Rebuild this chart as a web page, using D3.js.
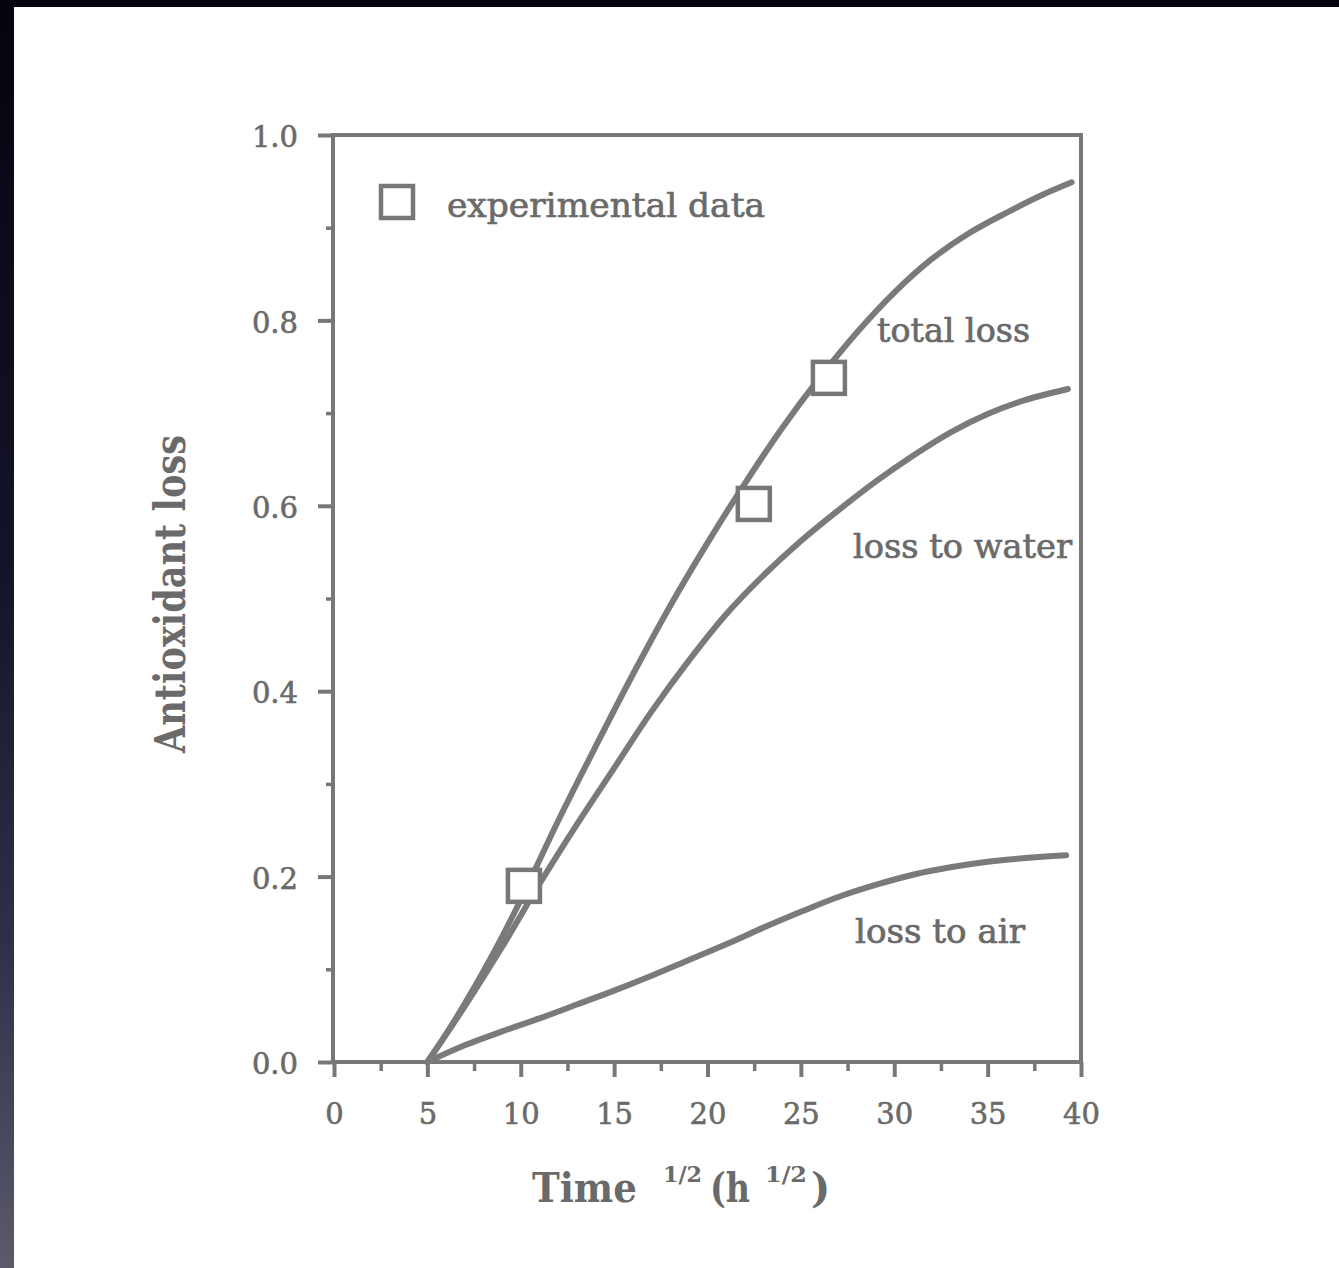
<!DOCTYPE html>
<html>
<head>
<meta charset="utf-8">
<script src="https://cdn.jsdelivr.net/npm/d3@7"></script>
<style>
  html, body { margin: 0; padding: 0; background: #ffffff; }
  svg { display: block; }
</style>
</head>
<body>
<svg id="chart" width="1339" height="1268"></svg>
<script>
// Antioxidant loss vs square root of time
const xTicksMajor = [0, 5, 10, 15, 20, 25, 30, 35, 40];
const xTicksMinor = [2.5, 7.5, 12.5, 17.5, 22.5, 27.5, 32.5, 37.5];
const yTicksMajor = [0, 0.2, 0.4, 0.6, 0.8, 1.0];
const yTicksMinor = [0.1, 0.3, 0.5, 0.7, 0.9];

// model curves: [time^1/2, fraction lost]
const totalLoss = [[5,0],[6,0.03],[7.5,0.08],[9,0.135],[10,0.175],[12,0.26],[14,0.34],[16,0.418],[18,0.492],[20,0.56],[22,0.624],[24,0.684],[26,0.738],[28,0.787],[30,0.83],[32,0.866],[34,0.894],[36,0.916],[38,0.936],[39.5,0.949]];
const lossToWater = [[5,0],[7,0.06],[9,0.124],[11,0.192],[13,0.256],[15,0.317],[17,0.378],[19,0.433],[21,0.483],[23,0.525],[25,0.562],[27,0.595],[29,0.626],[31,0.654],[33,0.679],[35,0.699],[37,0.714],[39.3,0.726]];
const lossToAir = [[5,0],[7,0.018],[9,0.033],[11,0.047],[13,0.062],[15,0.077],[17,0.093],[19,0.11],[21,0.127],[23,0.145],[25,0.162],[27,0.178],[29,0.191],[31,0.202],[33,0.21],[35,0.216],[37,0.22],[39.2,0.223]];

// measured points: [time^1/2, fraction lost]
const experimental = [[10.17,0.19],[22.48,0.602],[26.5,0.738]];

const curveLabels = ["total loss", "loss to water", "loss to air"];
const legendLabel = "experimental data";
const yTitle = "Antioxidant loss";

const svg = d3.select("#chart");
const ink = "#777777";
const textInk = "#6a6a6a";
const serif = "'DejaVu Serif', serif";

// dark frame strips
const defs = svg.append("defs");
const grad = defs.append("linearGradient").attr("id", "edge").attr("x1", 0).attr("y1", 0).attr("x2", 0).attr("y2", 1);
grad.append("stop").attr("offset", "0").attr("stop-color", "#04040f");
grad.append("stop").attr("offset", "0.45").attr("stop-color", "#141428");
grad.append("stop").attr("offset", "0.75").attr("stop-color", "#30304a");
grad.append("stop").attr("offset", "1").attr("stop-color", "#5a5a6a");
svg.append("rect").attr("x", 0).attr("y", 0).attr("width", 1339).attr("height", 7).attr("fill", "#04040f");
svg.append("rect").attr("x", 0).attr("y", 0).attr("width", 14).attr("height", 1268).attr("fill", "url(#edge)");

const x = d3.scaleLinear().domain([0, 40]).range([334, 1081]);
const y = d3.scaleLinear().domain([0, 1]).range([1062, 135]);

// minor ticks
svg.append("g").attr("transform", `translate(0,${y(0)})`)
  .call(d3.axisBottom(x).tickValues(xTicksMinor).tickSize(9).tickFormat(""))
  .call(g => g.select(".domain").remove())
  .call(g => g.selectAll("line").attr("stroke", ink).attr("stroke-width", 3.5));
svg.append("g").attr("transform", `translate(${x(0) - 1},0)`)
  .call(d3.axisLeft(y).tickValues(yTicksMinor).tickSize(7).tickFormat(""))
  .call(g => g.select(".domain").remove())
  .call(g => g.selectAll("line").attr("stroke", ink).attr("stroke-width", 3.5));

// major ticks and labels
svg.append("g").attr("transform", `translate(0,${y(0)})`)
  .call(d3.axisBottom(x).tickValues(xTicksMajor).tickSize(15).tickPadding(26).tickFormat(d3.format("d")))
  .call(g => g.select(".domain").remove())
  .call(g => g.selectAll("line").attr("stroke", ink).attr("stroke-width", 4))
  .call(g => g.selectAll("text").attr("fill", textInk).attr("stroke", textInk).attr("stroke-width", 0.6)
    .attr("font-family", serif).attr("font-size", 29));
svg.append("g").attr("transform", `translate(${x(0) - 1},0)`)
  .call(d3.axisLeft(y).tickValues(yTicksMajor).tickSize(15).tickPadding(20).tickFormat(d3.format(".1f")))
  .call(g => g.select(".domain").remove())
  .call(g => g.selectAll("line").attr("stroke", ink).attr("stroke-width", 4))
  .call(g => g.selectAll("text").attr("fill", textInk).attr("stroke", textInk).attr("stroke-width", 0.6)
    .attr("font-family", serif).attr("font-size", 29).attr("dy", "0.4em"));

// plot frame
svg.append("rect")
  .attr("x", x(0) - 1).attr("y", y(1))
  .attr("width", x(40) - x(0) + 1).attr("height", y(0) - y(1))
  .attr("fill", "none").attr("stroke", ink).attr("stroke-width", 4);

// curves
const line = d3.line().x(d => x(d[0])).y(d => y(d[1])).curve(d3.curveCatmullRom.alpha(0.5));
svg.append("g").selectAll("path")
  .data([totalLoss, lossToWater, lossToAir])
  .join("path")
  .attr("d", line)
  .attr("fill", "none")
  .attr("stroke", "#7a7a7a")
  .attr("stroke-width", 6)
  .attr("stroke-linecap", "round")
  .attr("stroke-linejoin", "round");

// experimental squares
const sq = 32;
svg.append("g").selectAll("rect")
  .data(experimental)
  .join("rect")
  .attr("x", d => x(d[0]) - sq / 2)
  .attr("y", d => y(d[1]) - sq / 2)
  .attr("width", sq).attr("height", sq)
  .attr("fill", "#ffffff")
  .attr("stroke", ink)
  .attr("stroke-width", 4.5);

// legend
svg.append("rect").attr("x", 397 - sq / 2).attr("y", 202 - sq / 2).attr("width", sq).attr("height", sq)
  .attr("fill", "#ffffff").attr("stroke", ink).attr("stroke-width", 4.5);
svg.append("text").attr("x", 447).attr("y", 217)
  .attr("font-family", serif).attr("font-size", 33).attr("fill", textInk)
  .attr("stroke", textInk).attr("stroke-width", 0.7)
  .attr("textLength", 318).attr("lengthAdjust", "spacingAndGlyphs")
  .text(legendLabel);

// curve labels
const labelPos = [[877, 342, 153], [853, 558, 219], [855, 943, 170]];
svg.append("g").selectAll("text")
  .data(curveLabels)
  .join("text")
  .attr("x", (d, i) => labelPos[i][0])
  .attr("y", (d, i) => labelPos[i][1])
  .attr("textLength", (d, i) => labelPos[i][2])
  .attr("lengthAdjust", "spacingAndGlyphs")
  .attr("font-family", serif).attr("font-size", 33).attr("fill", textInk)
  .attr("stroke", textInk).attr("stroke-width", 0.7)
  .text(d => d);

// axis titles
svg.append("text")
  .attr("transform", "translate(185,594) rotate(-90)")
  .attr("text-anchor", "middle")
  .attr("font-family", serif).attr("font-weight", "bold").attr("font-size", 43)
  .attr("fill", textInk)
  .attr("textLength", 318).attr("lengthAdjust", "spacingAndGlyphs")
  .text(yTitle);

const xt = svg.append("g").attr("font-family", serif).attr("font-weight", "bold").attr("fill", textInk);
xt.append("text").attr("x", 532).attr("y", 1202).attr("font-size", 41)
  .attr("textLength", 105).attr("lengthAdjust", "spacingAndGlyphs").text("Time");
xt.append("text").attr("x", 663).attr("y", 1182).attr("font-size", 23)
  .attr("textLength", 39).attr("lengthAdjust", "spacingAndGlyphs").text("1/2");
xt.append("text").attr("x", 710).attr("y", 1202).attr("font-size", 41)
  .attr("textLength", 40).attr("lengthAdjust", "spacingAndGlyphs").text("(h");
xt.append("text").attr("x", 765).attr("y", 1182).attr("font-size", 23)
  .attr("textLength", 42).attr("lengthAdjust", "spacingAndGlyphs").text("1/2");
xt.append("text").attr("x", 811).attr("y", 1202).attr("font-size", 41).text(")");
</script>
</body>
</html>
